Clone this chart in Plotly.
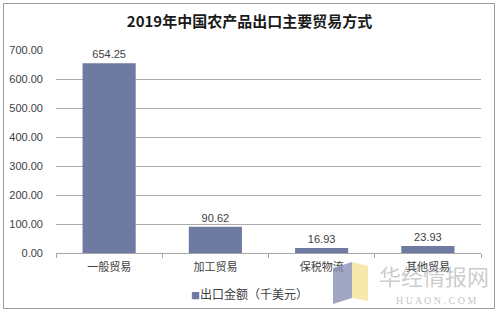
import plotly.graph_objects as go

categories = ["一般贸易", "加工贸易", "保税物流", "其他贸易"]
values = [654.25, 90.62, 16.93, 23.93]
y_ticks = [0, 100, 200, 300, 400, 500, 600, 700]
y_tick_labels = ["0.00", "100.00", "200.00", "300.00", "400.00", "500.00", "600.00", "700.00"]
title = "2019年中国农产品出口主要贸易方式"
series_name = "出口金额（千美元）"
bar_color = "#6E7AA2"

W, H = 499, 314
ml, mr, mt, mb = 56, 18, 50, 61

fig = go.Figure()
fig.add_trace(go.Bar(
    x=categories, y=values, name=series_name,
    marker=dict(color=bar_color, line=dict(width=0)),
    width=0.5,
    text=[f"{v:.2f}" for v in values], textposition="outside",
    textfont=dict(size=11, color="#404040", family="Liberation Sans, Arial"),
    cliponaxis=False,
))

pw = W - ml - mr
ph = H - mt - mb
def px(x):
    return (x - ml) / pw
def py(y):
    return (H - mb - y) / ph

fig.update_layout(
    width=W, height=H,
    margin=dict(l=ml, r=mr, t=mt, b=mb, autoexpand=False),
    paper_bgcolor="white", plot_bgcolor="white",
    showlegend=False,
    title=dict(text="<b>" + title + "</b>", x=0.5, xanchor="center", y=1 - 22 / H, yanchor="middle",
               font=dict(size=15, color="#1a1a1a", family="Noto Sans CJK SC")),
    xaxis=dict(showgrid=False, showline=True, linecolor="#A6A6A6", linewidth=1,
               ticks="outside", tickson="boundaries", ticklen=4, tickcolor="#A6A6A6",
               ticklabelstandoff=4,
               tickfont=dict(size=11, color="#404040", family="Noto Sans CJK SC")),
    yaxis=dict(range=[0, 700], tickvals=y_ticks, ticktext=y_tick_labels,
               showgrid=True, gridcolor="#ABABAB", gridwidth=1, zeroline=False,
               showline=False, ticks="", ticklabelstandoff=12,
               tickfont=dict(size=11, color="#404040", family="Liberation Sans, Arial")),
    bargap=0.5,
)

# legend (marker square + series name)
fig.add_annotation(xref="paper", yref="paper", x=px(249), y=py(293), xanchor="center", yanchor="middle",
                   text=f"<span style='color:{bar_color};font-size:9px'>■</span>{series_name}",
                   showarrow=False, font=dict(size=12, color="#404040", family="Noto Sans CJK SC"))

# outer border
fig.add_shape(type="rect", xref="paper", yref="paper",
              x0=px(3.5), x1=px(494.5), y0=py(308.5), y1=py(3.5),
              line=dict(color="#9A9A9A", width=1), fillcolor="rgba(0,0,0,0)", layer="below")

# watermark logo
def poly(pts):
    return "M " + " L ".join(f"{px(x):.4f},{py(y):.4f}" for x, y in pts) + " Z"
fig.add_shape(type="path", xref="paper", yref="paper",
              path=poly([(333, 268), (352, 262), (352, 298), (333, 304)]),
              fillcolor="rgba(130,138,175,0.75)", line=dict(width=0), layer="above")
fig.add_shape(type="path", xref="paper", yref="paper",
              path=poly([(352, 262), (368, 266), (368, 301), (352, 298)]),
              fillcolor="rgba(245,228,150,0.8)", line=dict(width=0), layer="above")

# watermark text
fig.add_annotation(xref="paper", yref="paper", x=px(434), y=py(275), xanchor="center", yanchor="middle",
                   text="华经情报网", showarrow=False,
                   font=dict(size=22, color="rgba(160,160,160,0.55)", family="Noto Sans CJK SC"))
fig.add_annotation(xref="paper", yref="paper", x=px(436), y=py(300), xanchor="center", yanchor="middle",
                   text="H U A O N . C O M", showarrow=False,
                   font=dict(size=10, color="rgba(150,150,150,0.6)", family="Liberation Serif"))

fig.write_html("out.html")
